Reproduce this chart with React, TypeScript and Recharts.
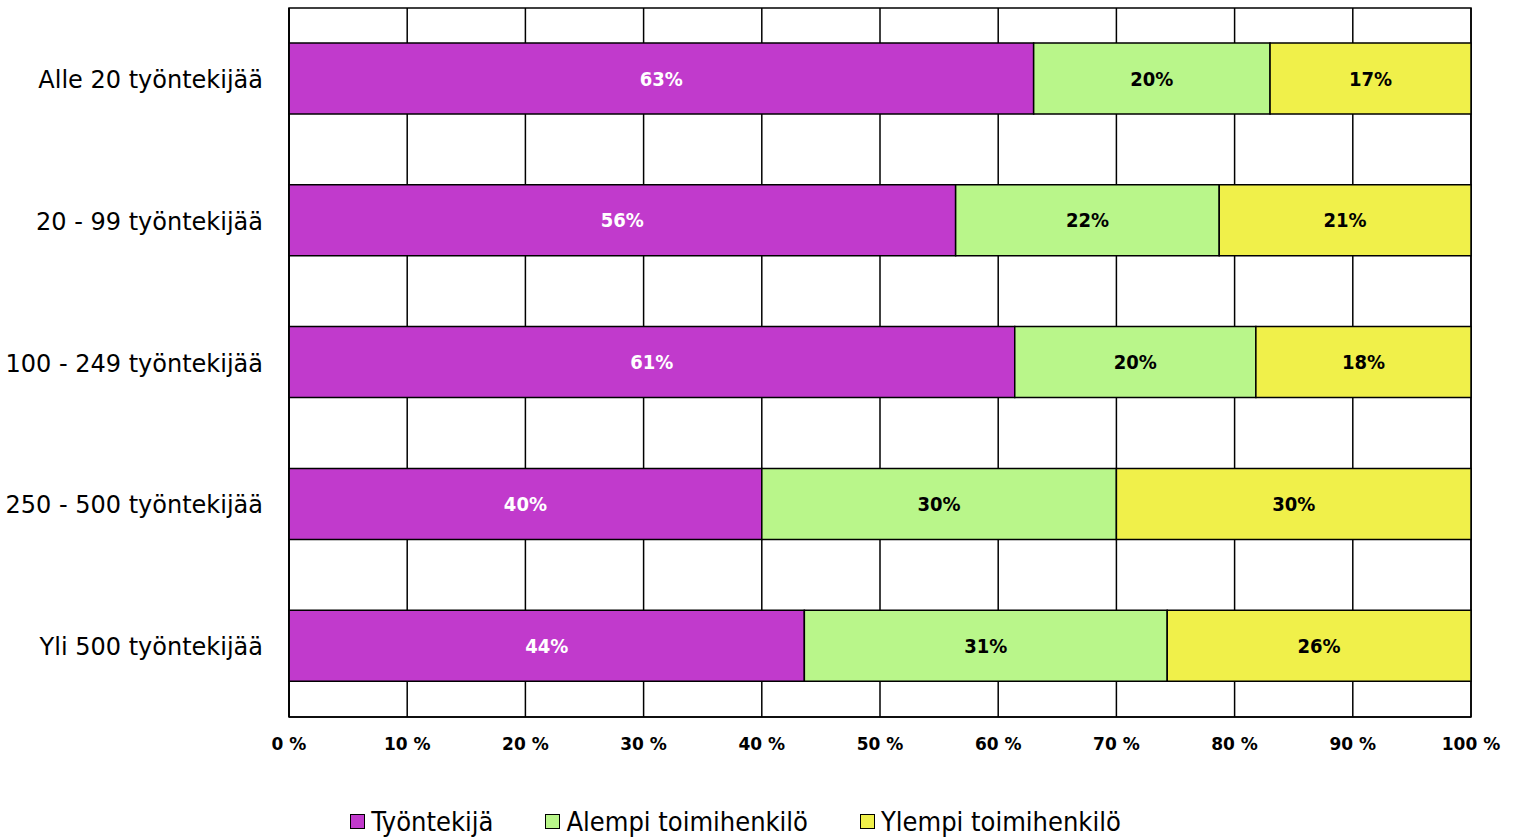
import React from 'react';
import { BarChart, Bar, XAxis, YAxis, CartesianGrid, Legend, LabelList, ReferenceArea } from 'recharts';

const categories = [
  'Alle 20 työntekijää',
  '20 - 99 työntekijää',
  '100 - 249 työntekijää',
  '250 - 500 työntekijää',
  'Yli 500 työntekijää',
];
const tyontekija = [63.0, 56.4, 61.4, 40.0, 43.6];
const alempi = [20.0, 22.3, 20.4, 30.0, 30.7];
const ylempi = [17.0, 21.3, 18.2, 30.0, 25.7];
const xTicks = [0, 10, 20, 30, 40, 50, 60, 70, 80, 90, 100];

const series = [
  { key: 'tyontekija', name: 'Työntekijä', color: '#C13ACC' },
  { key: 'alempi', name: 'Alempi toimihenkilö', color: '#B9F68A' },
  { key: 'ylempi', name: 'Ylempi toimihenkilö', color: '#F0F04A' },
];

const data = categories.map((name, i) => ({
  name,
  tyontekija: tyontekija[i],
  alempi: alempi[i],
  ylempi: ylempi[i],
}));

const FONT = '"DejaVu Sans", sans-serif';
const NARROW = '"DejaVu Sans Condensed", "DejaVu Sans", sans-serif';

const pct = (v: any) => `${Math.round(v)}%`;

// Y-akselin luokkanimet oikealle tasattuna
const CategoryTick = (props: any) => {
  const { x, y, payload } = props;
  return (
    <text x={x - 24} y={y} dy={9} textAnchor="end" fontSize={24} fontFamily={FONT} fill="#000">
      {payload.value}
    </text>
  );
};

const PercentTick = (props: any) => {
  const { x, y, payload } = props;
  return (
    <text x={x} y={y} dy={14} textAnchor="middle" fontSize={17} fontWeight="bold" fontFamily={FONT} fill="#000">
      {`${payload.value} %`}
    </text>
  );
};

const LegendContent = () => (
  <div style={{ display: 'flex', justifyContent: 'center', height: 36, alignItems: 'center', fontFamily: NARROW, fontSize: 27 }}>
    {series.map((s) => (
      <div key={s.key} style={{ display: 'flex', alignItems: 'center', margin: '0 26px' }}>
        <span style={{ width: 13, height: 13, background: s.color, border: '1.5px solid #000', marginRight: 6 }} />
        <span>{s.name}</span>
      </div>
    ))}
  </div>
);

const labelProps = { position: 'center' as const, formatter: pct, fontSize: 20, fontWeight: 'bold', fontFamily: NARROW };

export default function App() {
  return (
    <div style={{ position: 'absolute', left: 0, top: 0, width: 1517, height: 839, background: '#fff' }}>
      <BarChart
        width={1517}
        height={839}
        data={data}
        layout="vertical"
        margin={{ top: 8, right: 46, left: 0, bottom: 0 }}
        barSize={71}
      >
        <CartesianGrid horizontal={false} stroke="#000" strokeWidth={1.5} />
        <XAxis
          type="number"
          domain={[0, 100]}
          ticks={xTicks}
          tick={<PercentTick />}
          tickLine={false}
          tickSize={0}
          tickMargin={19}
          height={86}
          axisLine={{ stroke: '#000', strokeWidth: 1.5 }}
          interval={0}
        />
        <YAxis
          type="category"
          dataKey="name"
          width={289}
          tick={<CategoryTick />}
          tickLine={false}
          tickSize={0}
          axisLine={{ stroke: '#000', strokeWidth: 1.5 }}
          interval={0}
        />
        <ReferenceArea x1={0} x2={100} fill="none" stroke="#000" strokeWidth={1.5} fillOpacity={0} />
        <Legend verticalAlign="bottom" content={<LegendContent />} />
        <Bar dataKey="tyontekija" name="Työntekijä" stackId="a" fill="#C13ACC" stroke="#000" strokeWidth={1.5} isAnimationActive={false}>
          <LabelList dataKey="tyontekija" fill="#ffffff" {...labelProps} />
        </Bar>
        <Bar dataKey="alempi" name="Alempi toimihenkilö" stackId="a" fill="#B9F68A" stroke="#000" strokeWidth={1.5} isAnimationActive={false}>
          <LabelList dataKey="alempi" fill="#000000" {...labelProps} />
        </Bar>
        <Bar dataKey="ylempi" name="Ylempi toimihenkilö" stackId="a" fill="#F0F04A" stroke="#000" strokeWidth={1.5} isAnimationActive={false}>
          <LabelList dataKey="ylempi" fill="#000000" {...labelProps} />
        </Bar>
      </BarChart>
    </div>
  );
}
